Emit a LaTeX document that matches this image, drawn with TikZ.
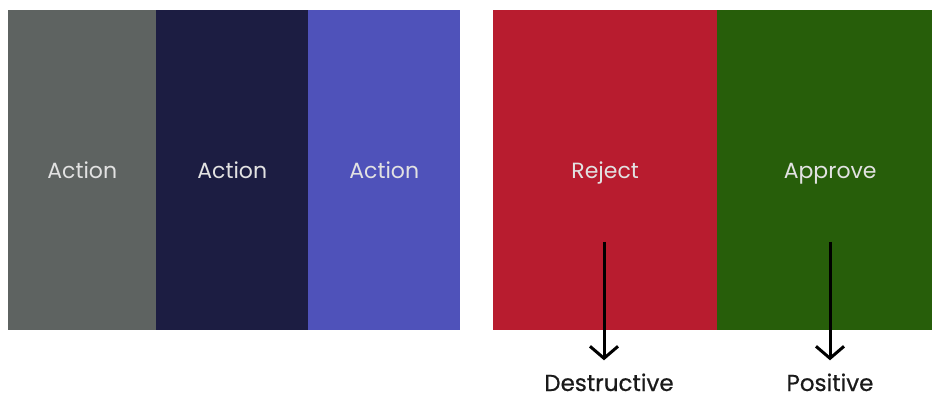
\documentclass[tikz,border=0pt]{standalone}
\usepackage{fontspec}
\setmainfont{Poppins}
\newfontfamily\captionfont{Poppins}[FakeBold=0.6]
\usetikzlibrary{arrows.meta, positioning}
\definecolor{actiongray}{HTML}{5E6361}
\definecolor{actionnavy}{HTML}{1C1D42}
\definecolor{actionblue}{HTML}{4F52BA}
\definecolor{rejectred}{HTML}{B81C2F}
\definecolor{approvegreen}{HTML}{275E0A}
\definecolor{boxtext}{HTML}{E2E2E2}
\definecolor{captiontext}{HTML}{1A1A1A}
\tikzset{
	actionbox/.style={fill=#1, anchor=north west, inner sep=0pt,
			minimum height=320pt, text=boxtext,
			text height=20pt, text depth=4pt,
			font=\fontsize{22}{26}\selectfont}
}
\tikzset{
	caption/.style={text=captiontext, anchor=base,
			text depth=0pt, inner sep=1pt,
			font=\captionfont\fontsize{23}{27}\selectfont}
}
\tikzset{
	downarrow/.style={line width=3pt, draw=black,
			-{Straight Barb[length=12pt, width=28pt]}, shorten >=12pt}
}

\begin{document}
\begin{tikzpicture}[x=1pt, y=-1pt]
	\useasboundingbox (0,0) rectangle (932,398);

	\begin{scope}
		\node[actionbox=actiongray, minimum width=148pt] (a1) at (8,10) {Action};
		\node[actionbox=actionnavy, minimum width=152pt] (a2) at (156,10) {Action};
		\node[actionbox=actionblue, minimum width=152pt] (a3) at (308,10) {Action};
	\end{scope}

	\begin{scope}
		\node[actionbox=rejectred, minimum width=224pt] (reject) at (493,10) {Reject};
		\node[actionbox=approvegreen, minimum width=215pt] (approve) at (717,10) {\hspace*{11pt}Approve};
	\end{scope}

	\begin{scope}
		\coordinate (rs) at (604,242);
		\coordinate (as) at (830,242);

		\node[caption] (destr) at (609,391) {Destructive};
		\node[caption] (posit) at (830,391) {Positive};

		\draw[downarrow] (rs) -- (rs |- destr.north);
		\draw[downarrow] (as) -- (as |- posit.north);
	\end{scope}

\end{tikzpicture}
\end{document}
